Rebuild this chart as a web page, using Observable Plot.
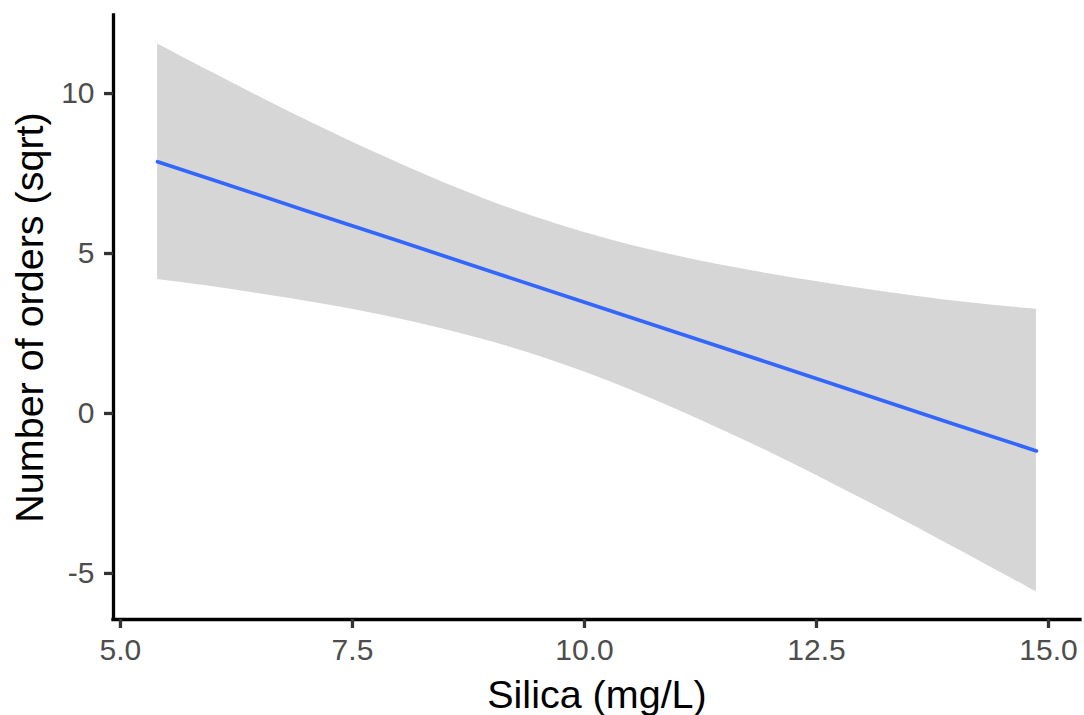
<!DOCTYPE html>
<html>
<head>
<meta charset="utf-8">
<script src="https://cdn.jsdelivr.net/npm/d3@7"></script>
<script src="https://cdn.jsdelivr.net/npm/@observablehq/plot@0.6"></script>
<style>
html, body { margin: 0; padding: 0; background: #ffffff; }
#chart svg { display: block; }
</style>
</head>
<body>
<div id="chart"></div>
<script>
// Values
const silica = [5.4, 6, 7, 8, 9, 10, 11, 12, 13, 14, 14.87];
const fitted = [7.87, 7.30, 6.34, 5.39, 4.43, 3.48, 2.52, 1.57, 0.61, -0.35, -1.17];
const lower  = [4.19, 3.96, 3.51, 2.96, 2.24, 1.30, 0.12, -1.22, -2.68, -4.21, -5.58];
const upper  = [11.55, 10.64, 9.17, 7.82, 6.62, 5.66, 4.92, 4.36, 3.90, 3.51, 3.26];
const xTicks = [5, 7.5, 10, 12.5, 15];
const yTicks = [-5, 0, 5, 10];
const xDomain = [4.925, 15.345];
const yDomain = [-6.44, 12.44];
const xTitle = "Silica (mg/L)";
const yTitle = "Number of orders (sqrt)";

const rows = silica.map((s, i) => ({silica: s, fit: fitted[i], lo: lower[i], hi: upper[i]}));

const chart = Plot.plot({
  width: 1084,
  height: 715,
  marginLeft: 113,
  marginRight: 4,
  marginTop: 15,
  marginBottom: 96,
  style: {fontFamily: "'Liberation Sans', Arial, Helvetica, sans-serif", background: "#ffffff"},
  x: {domain: xDomain, label: null},
  y: {domain: yDomain, label: null},
  marks: [
    Plot.areaY(rows, {x: "silica", y1: "lo", y2: "hi", fill: "#d6d6d6", curve: "natural"}),
    Plot.line(rows, {x: "silica", y: "fit", stroke: "#3366ff", strokeWidth: 3.7}),
    Plot.ruleX([xDomain[0]], {stroke: "#000000", strokeWidth: 3.3, strokeLinecap: "square"}),
    Plot.ruleY([yDomain[0]], {stroke: "#000000", strokeWidth: 3.3, strokeLinecap: "square"}),
    Plot.axisX({ticks: xTicks, tickSize: 9, text: null, stroke: "#333333", strokeWidth: 3.3, label: null}),
    Plot.axisX({ticks: xTicks, tickSize: 0, tickPadding: 19, tickFormat: d => d.toFixed(1),
                fontSize: 30, fill: "#4d4d4d", label: null}),
    Plot.axisY({ticks: yTicks, tickSize: 9, text: null, stroke: "#333333", strokeWidth: 3.3, label: null}),
    Plot.axisY({ticks: yTicks, tickSize: 0, tickPadding: 19, tickFormat: d => String(d),
                fontSize: 30, fill: "#4d4d4d", label: null}),
    Plot.text([xTitle], {text: d => d, frameAnchor: "bottom", lineAnchor: "bottom", dy: 88,
                         fontSize: 39.5, fill: "#000000"}),
    Plot.text([yTitle], {text: d => d, frameAnchor: "left", textAnchor: "middle", rotate: -90,
                         lineAnchor: "bottom", dx: -71, fontSize: 39.5, fill: "#000000"})
  ]
});
document.getElementById("chart").appendChild(chart);
</script>
</body>
</html>
